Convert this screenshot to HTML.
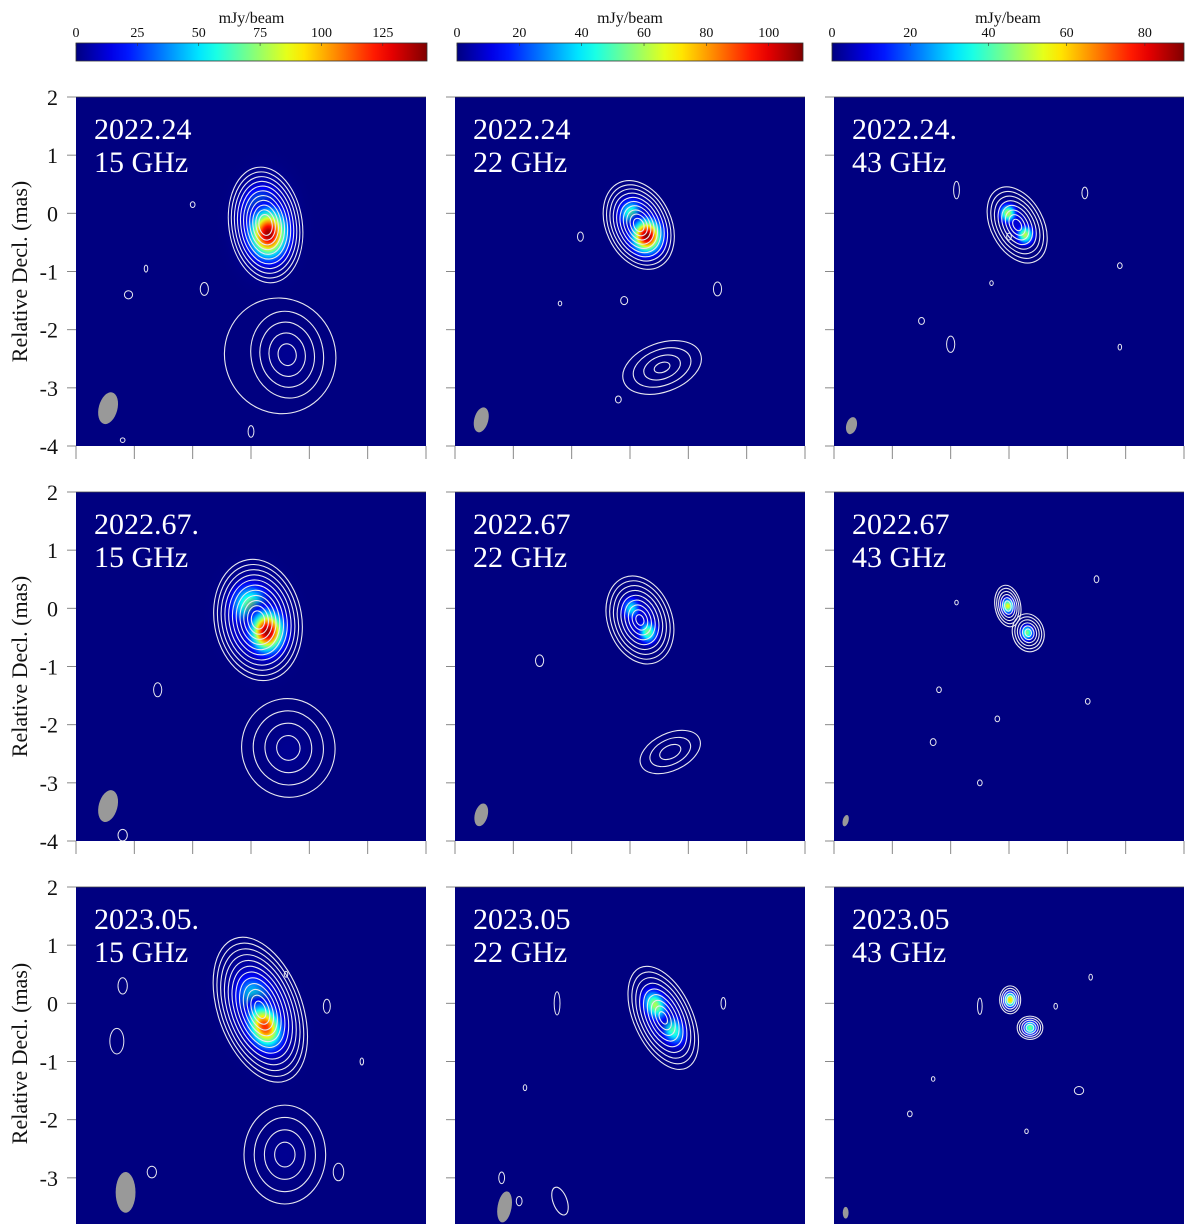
<!DOCTYPE html>
<html><head><meta charset="utf-8">
<style>
html,body{margin:0;padding:0;background:#fff;}
svg{display:block;font-family:"Liberation Serif",serif;}
</style></head>
<body>
<svg id="fig" width="1200" height="1224" viewBox="0 0 1200 1224" xmlns="http://www.w3.org/2000/svg">
<defs id="defs"></defs>
</svg>
<script>
// ---- data ----
const colMax = [143, 111, 90];
const cbTicks = [[0,25,50,75,100,125],[0,20,40,60,80,100],[0,20,40,60,80]];
const yTicks = [2,1,0,-1,-2,-3,-4];
const epochs = [["2022.24","2022.24","2022.24."],["2022.67.","2022.67","2022.67"],["2023.05.","2023.05","2023.05"]];
const freqs = ["15 GHz","22 GHz","43 GHz"];
// blobs per panel: [x mas, y mas, peak mJy, sigma x mas, sigma y mas, angle deg]
const blobs = [
 [[[-0.25,-0.2,30,0.32,0.5,0],[-0.18,-0.02,55,0.22,0.3,0],[-0.3,-0.35,140,0.2,0.26,0],[-0.62,-2.45,6,0.35,0.4,0]],
  [[-0.15,-0.2,25,0.24,0.34,-25],[-0.02,0.0,50,0.13,0.15,0],[-0.29,-0.39,111,0.16,0.18,0]],
  [[-0.14,-0.2,12,0.15,0.25,-28],[0.02,0.0,50,0.09,0.1,0],[-0.28,-0.37,50,0.09,0.1,0]]],
 [[[-0.12,-0.2,30,0.35,0.48,-10],[0.02,0.06,70,0.2,0.22,0],[-0.28,-0.4,140,0.18,0.22,0],[-0.64,-2.45,6,0.35,0.4,0]],
  [[-0.17,-0.2,15,0.22,0.33,-20],[-0.02,0.0,40,0.1,0.12,0],[-0.31,-0.41,55,0.1,0.12,0]],
  [[0.02,0.04,55,0.07,0.08,0],[-0.31,-0.42,45,0.07,0.08,0]]],
 [[[-0.16,-0.15,30,0.33,0.55,-20],[-0.07,0.06,60,0.19,0.27,-20],[-0.24,-0.4,120,0.17,0.24,-20],[-0.58,-2.6,6,0.35,0.4,0]],
  [[-0.57,-0.25,20,0.22,0.4,-25],[-0.43,-0.03,60,0.12,0.17,-25],[-0.74,-0.46,50,0.12,0.17,-25]],
  [[-0.02,0.06,60,0.07,0.08,0],[-0.36,-0.42,45,0.07,0.08,0]]]
];
// contour groups: [x, y, rx, ry, angle, levels, innerScale]
const contours = [
 [[[-0.25,-0.2,0.63,1.0,-8,11,0.18],[-0.62,-2.43,0.62,0.75,-10,4,0.25],[-0.5,-2.45,0.95,1.0,-20,1,1]],
  [[-0.15,-0.2,0.56,0.8,-25,10,0.15],[-0.55,-2.65,0.7,0.42,-20,4,0.2]],
  [[-0.14,-0.2,0.45,0.7,-28,8,0.15]]],
 [[[-0.12,-0.2,0.75,1.05,-10,11,0.15],[-0.64,-2.4,0.8,0.85,-10,4,0.25]],
  [[-0.17,-0.2,0.55,0.78,-20,9,0.12],[-0.69,-2.47,0.55,0.32,-25,3,0.35]],
  [[0.02,0.04,0.22,0.36,-10,6,0.25],[-0.33,-0.42,0.27,0.33,-15,6,0.2]]],
 [[[-0.16,-0.11,0.72,1.3,-20,12,0.12],[-0.58,-2.6,0.7,0.85,0,4,0.25]],
  [[-0.57,-0.25,0.5,0.95,-25,9,0.12],[1.2,-3.4,0.12,0.25,-20,1,1]],
  [[-0.02,0.06,0.18,0.24,0,5,0.3],[-0.36,-0.42,0.22,0.2,0,5,0.3]]]
];
// small noise contours: [x, y, rx, ry]
const specks = [
 [[[1.8,-0.95,0.03,0.06],[2.1,-1.4,0.07,0.07],[0.8,-1.3,0.07,0.11],[1.0,0.15,0.04,0.05],[0.0,-3.75,0.05,0.1],[2.2,-3.9,0.04,0.04]],
  [[0.85,-0.4,0.05,0.08],[0.1,-1.5,0.06,0.07],[-1.5,-1.3,0.07,0.12],[0.2,-3.2,0.05,0.06],[1.2,-1.55,0.03,0.04]],
  [[0.9,0.4,0.05,0.15],[-1.3,0.35,0.05,0.1],[0.0,-0.4,0.04,0.06],[1.5,-1.85,0.05,0.06],[1.0,-2.25,0.07,0.14],[-1.9,-0.9,0.04,0.05],[-1.9,-2.3,0.03,0.05],[0.3,-1.2,0.03,0.04]]],
 [[[1.6,-1.4,0.07,0.12],[2.2,-3.9,0.08,0.1]],
  [[1.55,-0.9,0.07,0.1]],
  [[-1.5,0.5,0.04,0.06],[1.3,-2.3,0.05,0.06],[0.2,-1.9,0.04,0.05],[-1.35,-1.6,0.04,0.05],[0.5,-3.0,0.04,0.05],[0.9,0.1,0.03,0.04],[1.2,-1.4,0.04,0.05]]],
 [[[2.2,0.3,0.08,0.14],[2.3,-0.65,0.12,0.22],[-1.3,-0.05,0.06,0.12],[-1.9,-1.0,0.03,0.06],[1.7,-2.9,0.08,0.1],[-1.5,-2.9,0.09,0.15],[-0.6,0.5,0.03,0.05]],
  [[1.25,0.0,0.05,0.2],[-1.6,0.0,0.04,0.1],[1.8,-1.45,0.03,0.05],[2.2,-3.0,0.05,0.1],[1.9,-3.4,0.05,0.08]],
  [[-1.4,0.45,0.03,0.05],[-0.8,-0.05,0.03,0.05],[0.5,-0.05,0.04,0.14],[1.3,-1.3,0.03,0.04],[-1.2,-1.5,0.08,0.07],[-0.3,-2.2,0.03,0.04],[1.7,-1.9,0.04,0.05]]]
];
// beam: [x, y, rx, ry, angle]
const beams = [
 [[2.45,-3.35,0.16,0.28,15],[2.55,-3.55,0.12,0.22,15],[2.7,-3.65,0.09,0.15,15]],
 [[2.45,-3.4,0.16,0.28,15],[2.55,-3.55,0.11,0.2,15],[2.8,-3.65,0.05,0.1,15]],
 [[2.15,-3.25,0.17,0.35,0],[2.15,-3.5,0.12,0.27,10],[2.8,-3.6,0.05,0.1,0]]
];
// ---- layout ----
const colX=[76,455,834], rowY=[97,492,887], PW=350, PH=349;
const SX=PW/6, SY=PH/6;
const NS="http://www.w3.org/2000/svg";
const svg=document.getElementById('fig'), defs=document.getElementById('defs');
function mk(tag,attrs,parent){const e=document.createElementNS(NS,tag);for(const k in attrs)e.setAttribute(k,attrs[k]);(parent||svg).appendChild(e);return e;}
function jet(v){v=Math.max(0,Math.min(1,v));
 const r=Math.max(0,Math.min(1,Math.min(4*v-1.5,-4*v+4.5)));
 const g=Math.max(0,Math.min(1,Math.min(4*v-0.5,-4*v+3.5)));
 const b=Math.max(0,Math.min(1,Math.min(4*v+0.5,-4*v+2.5)));
 return `rgb(${Math.round(r*255)},${Math.round(g*255)},${Math.round(b*255)})`;}
function xs(c,x){return colX[c]+(3-x)*SX;}
function ys(r,y){return rowY[r]+(2-y)*SY;}
let gid=0;
// colorbars
for(let c=0;c<3;c++){
 const x0=colX[c]+(c==1?2:(c==2?-2:0)), w=c==2?352:(c==1?346:351);
 const g=mk('linearGradient',{id:'cb'+c,x1:0,x2:1,y1:0,y2:0},defs);
 for(let i=0;i<=20;i++)mk('stop',{offset:i/20,'stop-color':jet(i/20)},g);
 const bar=mk('rect',{x:x0,y:43,width:w,height:18,fill:`url(#cb${c})`,stroke:'#333','stroke-width':0.8});
 
 
 const t=mk('text',{x:x0+w/2,y:23,'font-size':16,'text-anchor':'middle',fill:'#111'});t.textContent='mJy/beam';
 
 
 cbTicks[c].forEach(v=>{const tx=x0+v/colMax[c]*w;
  const l=mk('text',{x:tx,y:37,'font-size':14,'text-anchor':'middle',fill:'#111'});l.textContent=v;
  
  
  mk('line',{x1:tx,x2:tx,y1:43,y2:46,stroke:'#333','stroke-width':0.6});});
}
// panels
for(let r=0;r<3;r++)for(let c=0;c<3;c++){
 const px=colX[c],py=rowY[r];
 const cp=mk('clipPath',{id:'clip'+r+c},defs);
 mk('rect',{x:px,y:py,width:PW,height:PH},cp);
 const g=mk('g',{'clip-path':`url(#clip${r}${c})`});
 
 
 mk('rect',{x:px,y:py,width:PW,height:PH,fill:'#000080'},g);
 const bl=blobs[r][c].slice().sort((a,b)=>a[2]-b[2]);
 bl.forEach(b=>{
  const id='bg'+(gid++);
  const rg=mk('radialGradient',{id:id,cx:0.5,cy:0.5,r:0.5},defs);
  for(let i=0;i<=12;i++){const t=i/12;const v=b[2]*Math.exp(-(3*t)*(3*t)/2)/colMax[c];
   mk('stop',{offset:t,'stop-color':jet(v),'stop-opacity':Math.min(1,v*10)},rg);}
  const cx=xs(c,b[0]),cy=ys(r,b[1]);
  const e=mk('ellipse',{cx:cx,cy:cy,rx:3*b[3]*SX,ry:3*b[4]*SY,fill:`url(#${id})`,transform:`rotate(${b[5]} ${cx} ${cy})`},g);
  
  
 });
 contours[r][c].forEach(k=>{
  const cx=xs(c,k[0]),cy=ys(r,k[1]);
  for(let i=0;i<k[5];i++){const s=k[5]==1?1:1-(1-k[6])*i/(k[5]-1);
   const e=mk('ellipse',{cx:cx,cy:cy,rx:k[2]*SX*s,ry:k[3]*SY*s,fill:'none',stroke:'#e8e8f0','stroke-width':1.1,transform:`rotate(${k[4]} ${cx} ${cy})`},g);
   
   }
 });
 specks[r][c].forEach(k=>{
  const e=mk('ellipse',{cx:xs(c,k[0]),cy:ys(r,k[1]),rx:k[2]*SX,ry:k[3]*SY,fill:'none',stroke:'#e8e8f0','stroke-width':1},g);
  
  
 });
 const bm=beams[r][c];const bx=xs(c,bm[0]),by=ys(r,bm[1]);
 const be=mk('ellipse',{cx:bx,cy:by,rx:bm[2]*SX,ry:bm[3]*SY,fill:'#999',transform:`rotate(${bm[4]} ${bx} ${by})`},g);
 
 
 const t1=mk('text',{x:px+18,y:py+42,'font-size':30,fill:'#fff'});t1.textContent=epochs[r][c];
 
 
 const t2=mk('text',{x:px+18,y:py+75,'font-size':30,fill:'#fff'});t2.textContent=freqs[c];
 
 
 yTicks.forEach(v=>{const y=ys(r,v);if(y>1224)return;
  mk('line',{x1:px-9,x2:px,y1:y,y2:y,stroke:'#888','stroke-width':1});
  if(c==0){const l=mk('text',{x:px-18,y:y+8,'font-size':22,'text-anchor':'end',fill:'#111'});l.textContent=v;
   
   }
 });
 if(r<2){for(let i=0;i<=6;i++){const x=px+i*PW/6;mk('line',{x1:x,x2:x,y1:py+PH,y2:py+PH+13,stroke:'#888','stroke-width':1});}}
 mk('line',{x1:px,x2:px+PW,y1:py,y2:py,stroke:'#444','stroke-width':0.8});
}
for(let r=0;r<3;r++){
 const cy=rowY[r]+PH/2+(r==2?-8:0);
 const t=mk('text',{x:0,y:0,'font-size':22,'text-anchor':'middle',fill:'#111',transform:`translate(27 ${cy}) rotate(-90)`});
 t.textContent='Relative Decl. (mas)';
 
 
}
</script>
</body></html>
